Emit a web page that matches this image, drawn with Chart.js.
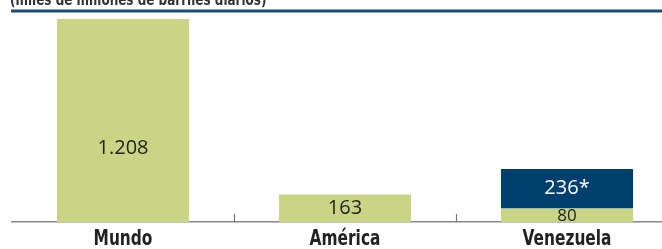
<!DOCTYPE html>
<html>
<head>
<meta charset="utf-8">
<script src="https://cdn.jsdelivr.net/npm/chart.js@4"></script>
<style>
    html, body { margin: 0; padding: 0; background: #fff; overflow: hidden; }
    #wrap { width: 680px; height: 249px; }
</style>
</head>
<body>
<div id="wrap"><canvas id="barChart" width="680" height="249"></canvas></div>
<script>
const categories = ['Mundo', 'América', 'Venezuela'];
const provenValues = [1208, 163, 80];
const extraValues = [0, 0, 236];
const provenLabels = ['1.208', '163', '80'];
const extraLabels = ['', '', '236*'];
const subtitle = '(miles de millones de barriles diarios)';

const green = '#c9d585';
const blue = '#003f6e';

// texto estrecho (no hay fuente condensada instalada)
function narrowText(ctx, text, x, y, squeeze) {
    ctx.save();
    ctx.translate(x, y);
    ctx.scale(squeeze, 1);
    ctx.fillText(text, 0, 0);
    ctx.restore();
}

// dibuja el subtitulo, la linea azul, los separadores y los valores
const decorPlugin = {
    id: 'decor',
    afterDraw(chart) {
        const ctx = chart.ctx;
        const area = chart.chartArea;
        const x = chart.scales.x;

        ctx.save();
        ctx.fillStyle = '#333';
        ctx.font = 'bold 15px "DejaVu Sans", sans-serif';
        ctx.textAlign = 'left';
        ctx.textBaseline = 'alphabetic';
        narrowText(ctx, subtitle, 10, 5, 0.8);

        ctx.fillStyle = '#1b4c7c';
        ctx.fillRect(11, 9.5, chart.width, 3);

        // separadores entre categorias
        ctx.strokeStyle = '#777';
        ctx.lineWidth = 1.2;
        const half = (x.getPixelForValue(1) - x.getPixelForValue(0)) / 2;
        for (let i = 1; i < categories.length; i++) {
            const px = Math.round(x.getPixelForValue(i) - half) + 0.5;
            ctx.beginPath();
            ctx.moveTo(px, area.bottom - 8);
            ctx.lineTo(px, area.bottom);
            ctx.stroke();
        }

        // nombres de las categorias
        ctx.fillStyle = '#222';
        ctx.textAlign = 'center';
        ctx.textBaseline = 'middle';
        ctx.font = 'bold 22px "DejaVu Sans", sans-serif';
        categories.forEach((c, i) => {
            narrowText(ctx, c, x.getPixelForValue(i), area.bottom + 17, 0.7);
        });

        chart.getDatasetMeta(0).data.forEach((bar, i) => {
            const h = bar.base - bar.y;
            const cy = bar.base - Math.min(h / 2, 74);
            ctx.fillStyle = '#222';
            ctx.font = (h < 20 ? '17px' : '20px') + ' "Open Sans", sans-serif';
            ctx.fillText(provenLabels[i], bar.x, cy + (h < 20 ? 1 : 0));
        });
        chart.getDatasetMeta(1).data.forEach((bar, i) => {
            if (!extraLabels[i]) return;
            ctx.fillStyle = '#fff';
            ctx.font = '20px "Open Sans", sans-serif';
            ctx.fillText(extraLabels[i], bar.x, (bar.y + bar.base) / 2);
        });
        ctx.restore();
    }
};

window.onload = () => {
    const ctx = document.getElementById('barChart').getContext('2d');
    new Chart(ctx, {
        type: 'bar',
        data: {
            labels: categories,
            datasets: [
                { data: provenValues, backgroundColor: green, borderWidth: 0,
                  categoryPercentage: 1, barPercentage: 0.595 },
                { data: extraValues, backgroundColor: blue, borderWidth: 0,
                  categoryPercentage: 1, barPercentage: 0.595 }
            ]
        },
        options: {
            responsive: false,
            animation: false,
            layout: { padding: { left: 12, right: 2, top: 19, bottom: 27 } },
            plugins: {
                legend: { display: false },
                tooltip: { enabled: false },
                title: { display: false }
            },
            scales: {
                x: {
                    stacked: true,
                    grid: { display: false, drawTicks: false },
                    border: { display: true, color: '#888', width: 1.5 },
                    ticks: { display: false }
                },
                y: {
                    stacked: true,
                    display: false,
                    min: 0,
                    max: 1208
                }
            }
        },
        plugins: [decorPlugin]
    });
};
</script>
</body>
</html>
